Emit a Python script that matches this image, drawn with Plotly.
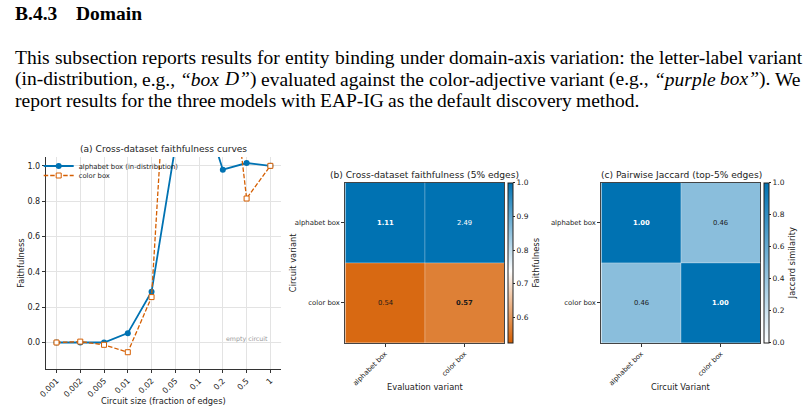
import plotly.graph_objects as go

W, H = 805, 412
def px(x): return x / W
def py(y): return 1 - y / H

# ---------------- data ----------------
sizes = ["0.001", "0.002", "0.005", "0.01", "0.02", "0.05", "0.1", "0.2", "0.5", "1"]
alphabet_faith = [0.0, 0.0, 0.0, 0.053, 0.287, 1.11, 1.40, 0.978, 1.016, 1.0]
color_faith = [0.0, 0.005, -0.013, -0.055, 0.257, 2.49, 2.30, 1.97, 0.815, 1.0]

variants = ["alphabet box", "color box"]
cross_faith = [[1.11, 2.49],
               [0.54, 0.57]]
jaccard = [[1.00, 0.46],
           [0.46, 1.00]]

BLUE = "#0072B2"
ORANGE = "#D55E00"
SANS = "DejaVu Sans"
SERIF = "Liberation Serif"
TXT = "#222222"

fig = go.Figure()

# ---------------- (a) curves ----------------
fig.add_trace(go.Scatter(
    x=sizes, y=alphabet_faith, mode="lines+markers",
    name="alphabet box (in-distribution)", legend="legend",
    line=dict(color=BLUE, width=1.8),
    marker=dict(symbol="circle", size=6, color=BLUE),
    xaxis="x", yaxis="y"))
fig.add_trace(go.Scatter(
    x=sizes, y=color_faith, mode="lines+markers",
    name="color box", legend="legend2",
    line=dict(color=ORANGE, width=1.3, dash="4.5px,2px"),
    marker=dict(symbol="square", size=5, color="white",
                line=dict(color=ORANGE, width=1)),
    xaxis="x", yaxis="y"))

# ---------------- (b) heatmap ----------------
div_scale = [[0.0, ORANGE], [0.45, "#ffffff"], [1.0, BLUE]]
fig.add_trace(go.Heatmap(
    z=cross_faith, x=variants, y=variants,
    colorscale=div_scale, zmin=0.525, zmax=1.0,
    xaxis="x2", yaxis="y2", showscale=True,
    colorbar=dict(
        x=px(505.3), xanchor="left", y=py(182.7), yanchor="top",
        thickness=5.4, thicknessmode="pixels",
        len=160.3, lenmode="pixels", xpad=0, ypad=0,
        outlinewidth=1, outlinecolor="#222",
        tickvals=[0.6, 0.7, 0.8, 0.9, 1.0], ticktext=["0.6", "0.7", "0.8", "0.9", "1.0"],
        ticks="outside", ticklen=2, tickcolor="#222",
        tickfont=dict(family=SANS, size=7.5, color=TXT),
        title=dict(text="Faithfulness", side="right",
                   font=dict(family=SANS, size=8.3, color=TXT)))))

# ---------------- (c) heatmap ----------------
blue_scale = [[0.0, "#ffffff"], [1.0, BLUE]]
fig.add_trace(go.Heatmap(
    z=jaccard, x=variants, y=variants,
    colorscale=blue_scale, zmin=0.0, zmax=1.0,
    xaxis="x3", yaxis="y3", showscale=True,
    colorbar=dict(
        x=px(764), xanchor="left", y=py(182.7), yanchor="top",
        thickness=5.4, thicknessmode="pixels",
        len=160.3, lenmode="pixels", xpad=0, ypad=0,
        outlinewidth=1, outlinecolor="#222",
        tickvals=[0, 0.2, 0.4, 0.6, 0.8, 1.0],
        ticktext=["0.0", "0.2", "0.4", "0.6", "0.8", "1.0"],
        ticks="outside", ticklen=2, tickcolor="#222",
        tickfont=dict(family=SANS, size=7.5, color=TXT),
        title=dict(text="Jaccard similarity", side="right",
                   font=dict(family=SANS, size=8.3, color=TXT)))))

annotations = []

def cell_labels(z, xref, yref, dark_thresh):
    for i, row in enumerate(z):
        for j, v in enumerate(row):
            t = f"{v:.2f}"
            if i == j:
                t = f"<b>{t}</b>"
            col = "white" if v >= dark_thresh else "#1a1a1a"
            annotations.append(dict(
                x=variants[j], y=variants[i], xref=xref, yref=yref,
                text=t, showarrow=False,
                font=dict(family=SANS, size=6.8, color=col)))

cell_labels(cross_faith, "x2", "y2", 0.9)
cell_labels(jaccard, "x3", "y3", 0.7)

def ann(x, y, text, size, angle=0, family=SANS, color=TXT, xanchor="center"):
    annotations.append(dict(
        x=px(x), y=py(y), xref="paper", yref="paper", text=text,
        showarrow=False, textangle=angle, xanchor=xanchor, yanchor="middle",
        font=dict(family=family, size=size, color=color)))

# titles
ann(157, 149, "(a) Cross-dataset faithfulness curves", 9.1)
ann(421, 175, "(b) Cross-dataset faithfulness (5% edges)", 9.1)
ann(680, 175, "(c) Pairwise Jaccard (top-5% edges)", 9.1)
# axis titles
ann(157, 401, "Circuit size (fraction of edges)", 8.3)
ann(13, 263, "Faithfulness", 8.3, angle=-90)
ann(421, 387, "Evaluation variant", 8.3)
ann(288, 263, "Circuit variant", 8.3, angle=-90)
ann(680, 387, "Circuit Variant", 8.3)

# empty circuit label (at the last category)
annotations.append(dict(
    x=len(sizes) - 1, y=0, xref="x", yref="y", text="empty circuit",
    showarrow=False, xanchor="right", yanchor="bottom", yshift=-2,
    font=dict(family=SANS, size=6.3, color="#999999")))

# ---------------- page text (justified with Times metrics) ----------------
ROMAN = {" ": 250, "(": 333, ")": 333, ",": 250, "-": 333, ".": 250, ":": 278,
         "A": 722, "B": 667, "D": 722, "E": 611, "G": 722, "I": 333, "P": 556,
         "T": 611, "W": 944, "a": 444, "b": 500, "c": 444, "d": 500, "e": 444,
         "f": 333, "g": 500, "h": 500, "i": 278, "j": 278, "k": 500, "l": 278,
         "m": 778, "n": 500, "o": 500, "p": 500, "q": 500, "r": 333, "s": 389,
         "t": 278, "u": 500, "v": 500, "w": 722, "x": 500, "y": 500, "z": 444,
         "“": 444, "”": 444, "3": 500, "4": 500}
ITALIC = {" ": 250, "D": 722, "a": 500, "b": 500, "e": 444, "l": 278, "o": 500,
          "p": 500, "r": 389, "u": 500, "x": 444, "“": 556, "”": 556}
BOLD = {"B": 667, ".": 250, "4": 500, "3": 500, "D": 722, "o": 500, "m": 833,
        "a": 500, "i": 278, "n": 556}

FS = 19.5
LEFT, RIGHT = 5, 800

def seg_width(segs, size):
    w = 0
    for txt, it in segs:
        tab = ITALIC if it else ROMAN
        w += sum(tab.get(c, 500) for c in txt)
    return w * size / 1000

def seg_html(segs):
    return "".join(f"<i>{t}</i>" if it else t for t, it in segs)

def text_line(words, y, justify):
    widths = [seg_width(w, FS) for w in words]
    if justify:
        gap = (RIGHT - LEFT - sum(widths)) / (len(words) - 1)
    else:
        gap = 250 * FS / 1000
    x = LEFT
    for w, wd in zip(words, widths):
        annotations.append(dict(
            x=px(x), y=py(y), xref="paper", yref="paper", text=seg_html(w),
            showarrow=False, xanchor="left", yanchor="middle",
            font=dict(family=SERIF, size=FS, color="black")))
        x += wd + gap

def R(s):
    return [(s, False)]

line1 = [R(w) for w in "This subsection reports results for entity binding under domain-axis variation: the letter-label variant".split()]
line2 = [R("(in-distribution,"), R("e.g.,"), [("“box", True)], [("D”", True), (")", False)],
         R("evaluated"), R("against"), R("the"), R("color-adjective"), R("variant"),
         R("(e.g.,"), [("“purple", True)], [("box”", True), (").", False)], R("We")]
line3 = [R(w) for w in "report results for the three models with EAP-IG as the default discovery method.".split()]

text_line(line1, 57, True)
text_line(line2, 79, True)
text_line(line3, 100, False)

# header
hdr_num = "B.4.3"
hdr_title = "Domain"
num_w = sum(BOLD[c] for c in hdr_num) * FS / 1000
ann(LEFT, 14, f"<b>{hdr_num}</b>", FS, family=SERIF, color="black", xanchor="left")
ann(LEFT + num_w + FS, 14, f"<b>{hdr_title}</b>", FS, family=SERIF, color="black", xanchor="left")

shapes = [
    dict(type="line", xref="x domain", yref="y", x0=0, x1=1, y0=0, y1=0,
         line=dict(color="#9a9a9a", width=1), layer="below"),
    dict(type="line", xref="x2", yref="y2 domain", x0=0.5, x1=0.5, y0=0, y1=1,
         line=dict(color="rgba(255,255,255,0.35)", width=1)),
    dict(type="line", xref="x2 domain", yref="y2", x0=0, x1=1, y0=0.5, y1=0.5,
         line=dict(color="rgba(255,255,255,0.35)", width=1)),
    dict(type="line", xref="x3", yref="y3 domain", x0=0.5, x1=0.5, y0=0, y1=1,
         line=dict(color="rgba(255,255,255,0.35)", width=1)),
    dict(type="line", xref="x3 domain", yref="y3", x0=0, x1=1, y0=0.5, y1=0.5,
         line=dict(color="rgba(255,255,255,0.35)", width=1)),
]

tickfont = dict(family=SANS, size=8.0, color=TXT)
hm_tickfont = dict(family=SANS, size=6.9, color=TXT)
legfont = dict(family=SANS, size=6.8, color=TXT)

fig.update_layout(
    width=W, height=H, margin=dict(l=0, r=0, t=0, b=0),
    paper_bgcolor="white", plot_bgcolor="white",
    showlegend=True,
    legend=dict(x=px(31), y=py(166), xanchor="left", yanchor="middle",
                bgcolor="rgba(0,0,0,0)", borderwidth=0, font=legfont, itemwidth=30),
    legend2=dict(x=px(31), y=py(175.5), xanchor="left", yanchor="middle",
                 bgcolor="rgba(0,0,0,0)", borderwidth=0, font=legfont, itemwidth=30),
    xaxis=dict(domain=[px(38.2), px(275.8)], anchor="y", type="category",
               range=[-0.45, 9.45], showgrid=True, gridcolor="#e3e3e3", gridwidth=0.8,
               tickangle=-45, ticks="outside", ticklen=3, tickcolor="#333",
               showline=True, linecolor="#333", linewidth=1.2,
               tickfont=tickfont, zeroline=False),
    yaxis=dict(domain=[py(369), py(157)], anchor="x",
               range=[-0.15, 1.05], tickvals=[0, 0.2, 0.4, 0.6, 0.8, 1.0],
               ticktext=["0.0", "0.2", "0.4", "0.6", "0.8", "1.0"],
               showgrid=True, gridcolor="#e3e3e3", gridwidth=0.8,
               ticks="outside", ticklen=3, tickcolor="#333",
               showline=True, linecolor="#333", linewidth=1.2,
               tickfont=tickfont, zeroline=False),
    xaxis2=dict(domain=[px(340.7), px(501.3)], anchor="y2", type="category",
                tickangle=-45, ticks="outside", ticklen=3, tickcolor="#333",
                showline=True, mirror=True, linecolor="#444", linewidth=1,
                tickfont=hm_tickfont, showgrid=False, zeroline=False),
    yaxis2=dict(domain=[py(343), py(182.7)], anchor="x2", type="category",
                autorange="reversed", ticks="outside", ticklen=3, tickcolor="#333",
                showline=True, mirror=True, linecolor="#444", linewidth=1,
                tickfont=hm_tickfont, showgrid=False, zeroline=False),
    xaxis3=dict(domain=[px(599.3), px(760)], anchor="y3", type="category",
                tickangle=-45, ticks="outside", ticklen=3, tickcolor="#333",
                showline=True, mirror=True, linecolor="#444", linewidth=1,
                tickfont=hm_tickfont, showgrid=False, zeroline=False),
    yaxis3=dict(domain=[py(343), py(182.7)], anchor="x3", type="category",
                autorange="reversed", ticks="outside", ticklen=3, tickcolor="#333",
                showline=True, mirror=True, linecolor="#444", linewidth=1,
                tickfont=hm_tickfont, showgrid=False, zeroline=False),
    annotations=annotations, shapes=shapes,
)

fig.write_html("out.html")
